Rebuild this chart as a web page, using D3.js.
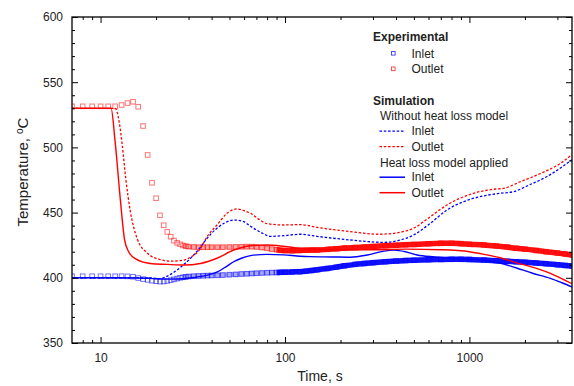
<!DOCTYPE html>
<html><head><meta charset="utf-8">
<script src="https://cdn.jsdelivr.net/npm/d3@7"></script>
<style>body{margin:0;background:#fff}svg{display:block}text{font-family:"Liberation Sans",Arial,sans-serif}</style>
</head><body><svg id="c" width="574" height="386"></svg>
<script>
// ---- data ----
const expTime   = [7,8,9,10,11,12,13,14,15,16,17,18,19,20,21,22,23,24,25,26,27,28,29,30,32,34,36,38,40,43,46,50,54,58,62,66,70,75,80,85,90,95,100,110,120,130,140,150,170,190,210,240,270,300,350,400,450,500,600,700,800,900,1000,1200,1400,1600,1800,2000,2300,2600,3000,3300,3600];
const expInlet  = [401.2,401.2,401.2,401.2,401.2,401.2,401.2,401.1,400.8,399.8,399,398.4,397.8,397.4,397.1,397.2,397.6,398.2,398.8,399.4,400,400.4,400.7,401,401.2,401.4,401.6,401.7,401.8,401.9,402.1,402.4,402.6,402.9,403.1,403.3,403.5,403.7,403.9,404,404.1,404.2,404.3,404.5,404.7,405.1,405.6,406.2,407.2,408.2,409.2,410.3,411,411.6,412.3,412.8,413.2,413.5,413.9,414.1,414.2,414.2,414.1,413.6,413.1,412.7,412.3,411.9,411.3,410.8,410,409.5,409];
const expOutlet = [531.5,531.5,531.5,531.5,531.5,531.5,532.5,534,535,531.2,516.4,494.2,472.9,461,447.9,440.3,435.2,431.5,428.5,426.8,425.7,424.8,424.2,423.9,423.6,423.5,423.5,423.5,423.5,423.5,423.5,423.6,423.7,423.8,423.9,423.9,423.6,423.2,422.6,422,421.5,421.1,420.9,420.8,421,421.2,421.3,421.3,421.8,422.3,422.8,423.2,423.6,424,424.5,424.9,425.3,425.6,426.1,426.4,426.5,426.2,425.8,425.2,424.4,423.6,422.6,422,421,420,419,418.2,417.5];

const simTimeInNo  = [7,18,21,23.5,26,29,32,34.8,37.8,42.8,47,52.7,59.8,65,70,76,83,98.5,121,149,226,344,424,498,614,755,930,1140,1470,1730,2110,2620,3600];
const simInletNo   = [400,400,399.4,402,406,411.5,417.5,423.5,430.3,438,442,444.3,443,439.5,436.7,434,431.8,432.3,433.4,431.8,429,427.2,429,432.8,441.8,452,458.4,462.2,464.8,466,471.2,477.5,490.5];
const simTimeOutNo = [7,12,12.6,13.1,13.7,14.5,15.8,17.9,21.1,24,28.3,30,34.8,38,42.8,48.5,55,60,65,72,80,98.5,121,149,226,323,424,498,614,755,890,1050,1355,1530,1890,2430,3120,3600];
const simOutletNo  = [530,530,520,502,476,451,430,419,414,412.8,413.6,415,422.5,432,440.5,449.5,452.8,451.5,449.5,445,441.5,440.5,440.8,438.7,435.4,433.4,435,438,446.9,455.8,461,464.8,467.9,468.6,473.7,480,487.8,494.5];
const simTimeInHL  = [7,12,16,20,24,28,32,38,43,48.5,52.7,58,65,80,98.5,121,137,180,226,280,344,390,450,520,650,785,1000,1190,1500,1800,2200,2750,3200,3600];
const simInletHL   = [400,400,399.8,399.3,399,399.3,400.2,402,404.5,409,412.3,415,417,418,417.6,416.5,416.2,416,415.8,417.5,420.5,421.2,420,417.5,416,415,414.2,413.5,411,407.5,403.5,399.6,396,393];
const simTimeOutHL = [7,11.4,12,12.8,13.5,14.2,15.5,18.6,23,28.3,34.8,42.8,52.7,65,80,100,121,200,300,450,700,1000,1200,1500,1800,2100,2400,2750,3100,3600];
const simOutletHL  = [530,530,504,460,429,420,414.5,411,410.3,409.8,411,415,421.3,424.6,425.2,424,422.6,421.5,421.5,422,421.5,420,418,415,411.5,409,406.5,403.4,400,395.5];

const yTicksMajor = [350,400,450,500,550,600];
const xTicksMajor = [10,100,1000];
const xTicksMinor = [8,9,20,30,40,50,60,70,80,90,200,300,400,500,600,700,800,900,2000,3000];
const legendExp = ["Inlet","Outlet"];
const legendSim = ["Inlet","Outlet"];

// ---- drawing ----
const svg = d3.select("#c");
const L=72,R=572,T=17,B=343;
const x = d3.scaleLog().domain([7,3600]).range([L,R]);
const y = d3.scaleLinear().domain([350,600]).range([B,T]);
const BLUE="#0000ff", RED="#ff0000";

svg.append("clipPath").attr("id","clip").append("rect").attr("x",L).attr("y",T).attr("width",R-L).attr("height",B-T);
const plot = svg.append("g").attr("clip-path","url(#clip)");

function expSeries(vals,color){
  const pts = expTime.map((t,i)=>[t,vals[i]]);
  const line = d3.line().x(d=>x(d[0])).y(d=>y(d[1])).curve(d3.curveMonotoneX);
  plot.append("path").datum(pts.filter(d=>d[0]>=28)).attr("d",line)
    .attr("fill","none").attr("stroke",color).attr("stroke-width",5).attr("stroke-opacity",0.35);
  plot.append("path").datum(pts.filter(d=>d[0]>=90)).attr("d",line)
    .attr("fill","none").attr("stroke",color).attr("stroke-width",5.5).attr("stroke-opacity",0.9);
  plot.append("g").selectAll("rect").data(pts).join("rect")
    .attr("x",d=>x(d[0])-2.3).attr("y",d=>y(d[1])-2.3).attr("width",4.6).attr("height",4.6)
    .attr("fill","none").attr("stroke",color).attr("stroke-opacity",0.55).attr("stroke-width",1);
}
expSeries(expInlet,BLUE);
expSeries(expOutlet,RED);

function simLine(ts,vals,color,dashed){
  const pts = ts.map((t,i)=>[t,vals[i]]);
  plot.append("path").datum(pts)
    .attr("d",d3.line().x(d=>x(d[0])).y(d=>y(d[1])).curve(d3.curveMonotoneX))
    .attr("fill","none").attr("stroke",color).attr("stroke-width",dashed?1.3:1.4)
    .attr("stroke-dasharray",dashed?"2.5,1.8":null);
}
simLine(simTimeInNo,simInletNo,BLUE,true);
simLine(simTimeOutNo,simOutletNo,RED,true);
simLine(simTimeInHL,simInletHL,BLUE,false);
simLine(simTimeOutHL,simOutletHL,RED,false);

// axes
const yMinor = d3.range(350,601,10).filter(v=>v%50!==0);
function styleAxis(g){ g.selectAll(".domain").remove(); g.selectAll("line").attr("stroke","#000").attr("stroke-width",1); g.selectAll("text").attr("font-size",12).attr("fill","#222").attr("font-family","Liberation Sans, Arial, sans-serif"); }
svg.append("g").attr("transform",`translate(0,${B})`).call(d3.axisBottom(x).tickValues(xTicksMajor).tickFormat(d3.format("d")).tickSizeInner(-6).tickPadding(10)).call(styleAxis);
svg.append("g").attr("transform",`translate(0,${B})`).call(d3.axisBottom(x).tickValues(xTicksMinor).tickFormat("").tickSizeInner(-3)).call(styleAxis);
svg.append("g").attr("transform",`translate(0,${T})`).call(d3.axisTop(x).tickValues(xTicksMajor).tickFormat("").tickSizeInner(-6)).call(styleAxis);
svg.append("g").attr("transform",`translate(0,${T})`).call(d3.axisTop(x).tickValues(xTicksMinor).tickFormat("").tickSizeInner(-3)).call(styleAxis);
svg.append("g").attr("transform",`translate(${L},0)`).call(d3.axisLeft(y).tickValues(yTicksMajor).tickSizeInner(-6).tickPadding(9)).call(styleAxis);
svg.append("g").attr("transform",`translate(${L},0)`).call(d3.axisLeft(y).tickValues(yMinor).tickFormat("").tickSizeInner(-3)).call(styleAxis);
svg.append("g").attr("transform",`translate(${R},0)`).call(d3.axisRight(y).tickValues(yTicksMajor).tickFormat("").tickSizeInner(-6)).call(styleAxis);
svg.append("g").attr("transform",`translate(${R},0)`).call(d3.axisRight(y).tickValues(yMinor).tickFormat("").tickSizeInner(-3)).call(styleAxis);
svg.append("rect").attr("x",L).attr("y",T).attr("width",R-L).attr("height",B-T).attr("fill","none").attr("stroke","#000").attr("stroke-width",1.3);

svg.append("text").attr("x",320).attr("y",381).attr("text-anchor","middle").attr("font-size",14).attr("fill","#222").text("Time, s");
svg.append("text").attr("transform","translate(28,172) rotate(-90)").attr("text-anchor","middle").attr("font-size",15).attr("fill","#222")
  .html('Temperature, <tspan baseline-shift="super" font-size="10">o</tspan>C');

// legend
const lg = svg.append("g").attr("font-size",12).attr("fill","#222");
lg.append("text").attr("x",373).attr("y",41).attr("font-weight","bold").text("Experimental");
[[BLUE,57.5],[RED,73]].forEach((c,i)=>{
  lg.append("rect").attr("x",391.5).attr("y",c[1]-6).attr("width",3.6).attr("height",3.6).attr("fill","none").attr("stroke",c[0]).attr("stroke-opacity",0.7);
  lg.append("text").attr("x",411.5).attr("y",c[1]).text(legendExp[i]);
});
lg.append("text").attr("x",373).attr("y",104.5).attr("font-weight","bold").text("Simulation");
lg.append("text").attr("x",380).attr("y",120).text("Without heat loss model");
lg.append("text").attr("x",380).attr("y",166.5).text("Heat loss model applied");
[[BLUE,135,true],[RED,150.5,true],[BLUE,181,false],[RED,196.5,false]].forEach((c,i)=>{
  lg.append("line").attr("x1",379.5).attr("x2",405).attr("y1",c[1]-3.8).attr("y2",c[1]-3.8).attr("stroke",c[0]).attr("stroke-width",c[2]?1.3:1.5).attr("stroke-dasharray",c[2]?"2.5,1.8":null);
  lg.append("text").attr("x",411.5).attr("y",c[1]).text(legendSim[i%2]);
});
</script></body></html>
